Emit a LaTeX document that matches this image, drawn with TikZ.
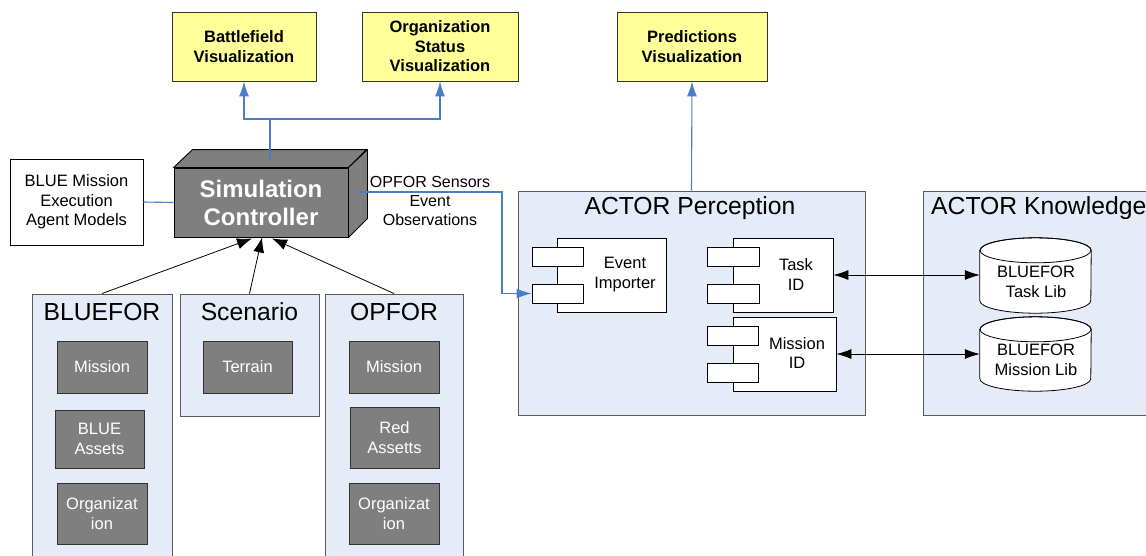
\documentclass[tikz,border=0pt]{standalone}
\usepackage{fontspec}
\setmainfont{Liberation Sans}
\usetikzlibrary{arrows.meta,calc}
\definecolor{cfill}{HTML}{E6ECF7}
\definecolor{cborder}{HTML}{5A5A5A}
\definecolor{dgray}{HTML}{7F7F7F}
\definecolor{yel}{HTML}{FFFF99}
\definecolor{blueline}{HTML}{4A7CC8}
\begin{document}
\begin{tikzpicture}[x=1pt,y=-1pt,
  txt/.style={font=\fontsize{16.5}{19.5}\selectfont,align=center,inner sep=0pt},
  ttl/.style={font=\fontsize{24.7}{28}\selectfont,inner sep=0pt},
  yelbox/.style={draw=black!80,fill=yel,line width=0.9pt,font=\bfseries\fontsize{16.5}{19.5}\selectfont,align=center,inner sep=0pt},
  container/.style={draw=cborder,fill=cfill,line width=0.9pt,inner sep=0pt},
  graybox/.style={draw=black!80,fill=dgray,line width=0.9pt,text=white,font=\fontsize{16.5}{19.5}\selectfont,align=center,inner sep=0pt},
  whitebox/.style={draw=black,fill=white,line width=0.8pt,inner sep=0pt},
  bluearrow/.style={draw=blueline,line width=1.1pt,-{Latex[length=15pt,width=10pt]}},
  blueplain/.style={draw=blueline,line width=1.1pt},
  blackarrow/.style={draw=black,line width=0.8pt,-{Latex[length=15pt,width=11pt]}},
  dblarrow/.style={draw=black,line width=0.8pt,{Latex[length=15pt,width=10pt]}-{Latex[length=15pt,width=10pt]}}
]
\useasboundingbox (0,0) rectangle (1146,555);
\clip (0,0) rectangle (1146,555);

% top visualization boxes
\node[yelbox,minimum width=144pt,minimum height=69pt] (bv) at (244,46.5) {Battlefield\\Visualization};
\node[yelbox,minimum width=156pt,minimum height=69pt] (osv) at (440,46.5) {Organization\\Status\\Visualization};
\node[yelbox,minimum width=150pt,minimum height=69pt] (pv) at (692,46.5) {Predictions\\Visualization};

% simulation controller (3D box)
\node[draw=black,fill=dgray,line width=0.9pt,minimum width=174pt,minimum height=69pt,inner sep=0pt,
      text=white,font=\bfseries\fontsize{24}{28}\selectfont,align=center] (sc) at (261,202.5) {Simulation\\Controller};
\draw[fill=dgray,line width=0.9pt,line join=round] (sc.north west) -- ++(19,-18) -- ++(174,0) -- (sc.north east) -- cycle;
\draw[fill=dgray,line width=0.9pt,line join=round] (sc.north east) -- ++(19,-18) -- ++(0,69) -- (sc.south east) -- cycle;
\coordinate (sctop) at (270,159);
\coordinate (scr) at (357,192);

% blue mission box
\node[draw=black,fill=white,line width=0.8pt,minimum width=133pt,minimum height=86pt,txt] (bm) at (76.5,202) {BLUE Mission\\Execution\\Agent Models};
\draw[blueplain] (bm.east) -- (sc.west);

% visualization connectors
\coordinate (j) at (270,119);
\draw[blueplain] (sctop) -- (j);
\draw[bluearrow] (j) -| (bv.south);
\draw[bluearrow] (j) -| (osv.south);

% containers
\node[container,minimum width=140pt,minimum height=281pt] (blue) at (102,434.5) {};
\node[container,minimum width=139pt,minimum height=122pt] (scen) at (249.5,355) {};
\node[container,minimum width=138pt,minimum height=281pt] (opf) at (394,434.5) {};
\node[ttl] (bluet) at (102,312) {BLUEFOR};
\node[ttl] (scent) at (249.5,312) {Scenario};
\node[ttl] (opft) at (394,312) {OPFOR};

\node[graybox,minimum width=90pt,minimum height=52pt] (bmis) at (102,367) {Mission};
\node[graybox,minimum width=89pt,minimum height=58pt] (bass) at (99.5,439) {BLUE\\Assets};
\node[graybox,minimum width=90pt,minimum height=61pt] (borg) at (102,513.5) {Organizat\\ion};
\node[graybox,minimum width=89pt,minimum height=52pt] (terr) at (247.5,367) {Terrain};
\node[graybox,minimum width=90pt,minimum height=52pt] (omis) at (394,367) {Mission};
\node[graybox,minimum width=89pt,minimum height=61pt] (oass) at (394.5,437.5) {Red\\Assetts};
\node[graybox,minimum width=90pt,minimum height=61pt] (oorg) at (394,513.5) {Organizat\\ion};

\draw[blackarrow] (blue.north) -- ($(sc.south)+(-9,1)$);
\draw[blackarrow] (scen.north) -- ($(sc.south)+(1,0)$);
\draw[blackarrow] (opf.north) -- ($(sc.south)+(11,1)$);

% ACTOR perception
\node[container,minimum width=347pt,minimum height=224pt] (perc) at (691.5,303) {};
\node[ttl] (perct) at (690,208) {ACTOR Perception};
\node[container,minimum width=277pt,minimum height=224pt] (know) at (1061.5,303) {};
\node[ttl,anchor=west] (knowt) at (931,208) {ACTOR Knowledge};

\draw[bluearrow] (perc.north) -- (pv.south);

% components
\node[whitebox,minimum width=109pt,minimum height=74pt] (ei) at (611.5,275) {};
\node[whitebox,minimum width=51pt,minimum height=19pt] (ei1) at (557.5,256.5) {};
\node[whitebox,minimum width=51pt,minimum height=19pt] (ei2) at (557.5,293.5) {};
\node[txt] (eit) at (625,274.5) {Event\\Importer};

\node[whitebox,minimum width=100pt,minimum height=74pt] (tid) at (783,275) {};
\node[whitebox,minimum width=52pt,minimum height=19pt] (tid1) at (733,256.5) {};
\node[whitebox,minimum width=52pt,minimum height=19pt] (tid2) at (733,293.5) {};
\node[txt] (tidt) at (796,274.5) {Task\\ID};

\node[whitebox,minimum width=103pt,minimum height=74pt] (mid) at (784.5,354) {};
\node[whitebox,minimum width=51pt,minimum height=19pt] (mid1) at (732.5,336) {};
\node[whitebox,minimum width=51pt,minimum height=19pt] (mid2) at (732.5,372.5) {};
\node[txt] (midt) at (797,353) {Mission\\ID};

% OPFOR sensors connector
\draw[bluearrow] (scr) -- ++(145,0) |- (ei2.west);
\node[txt,font=\fontsize{16}{19}\selectfont] (obs) at (430,201) {OPFOR Sensors\\Event\\Observations};

% cylinders
\node[inner sep=0pt,minimum width=111pt,minimum height=75pt] (tl) at (1035.5,275.5) {};
\draw[fill=white,line width=0.8pt] ($(tl.north west)+(0,12.5)$) -- ($(tl.south west)+(0,-12.5)$)
   arc[start angle=180,end angle=360,x radius=55.5pt,y radius=12.5pt] -- ($(tl.north east)+(0,12.5)$)
   arc[start angle=0,end angle=180,x radius=55.5pt,y radius=12.5pt] -- cycle;
\draw[line width=0.8pt] ($(tl.north)+(0,12.5)$) ellipse[x radius=55.5pt,y radius=12.5pt];
\node[txt] (tlt) at (1036,282) {BLUEFOR\\Task Lib};

\node[inner sep=0pt,minimum width=111pt,minimum height=74pt] (ml) at (1035.5,354) {};
\draw[fill=white,line width=0.8pt] ($(ml.north west)+(0,12.5)$) -- ($(ml.south west)+(0,-12.5)$)
   arc[start angle=180,end angle=360,x radius=55.5pt,y radius=12.5pt] -- ($(ml.north east)+(0,12.5)$)
   arc[start angle=0,end angle=180,x radius=55.5pt,y radius=12.5pt] -- cycle;
\draw[line width=0.8pt] ($(ml.north)+(0,12.5)$) ellipse[x radius=55.5pt,y radius=12.5pt];
\node[txt] (mlt) at (1036,360) {BLUEFOR\\Mission Lib};

\draw[dblarrow] (tid.east) -- (tid.east -| tl.west);
\draw[dblarrow] (mid.east) -- (mid.east -| ml.west);
\end{tikzpicture}
\end{document}
